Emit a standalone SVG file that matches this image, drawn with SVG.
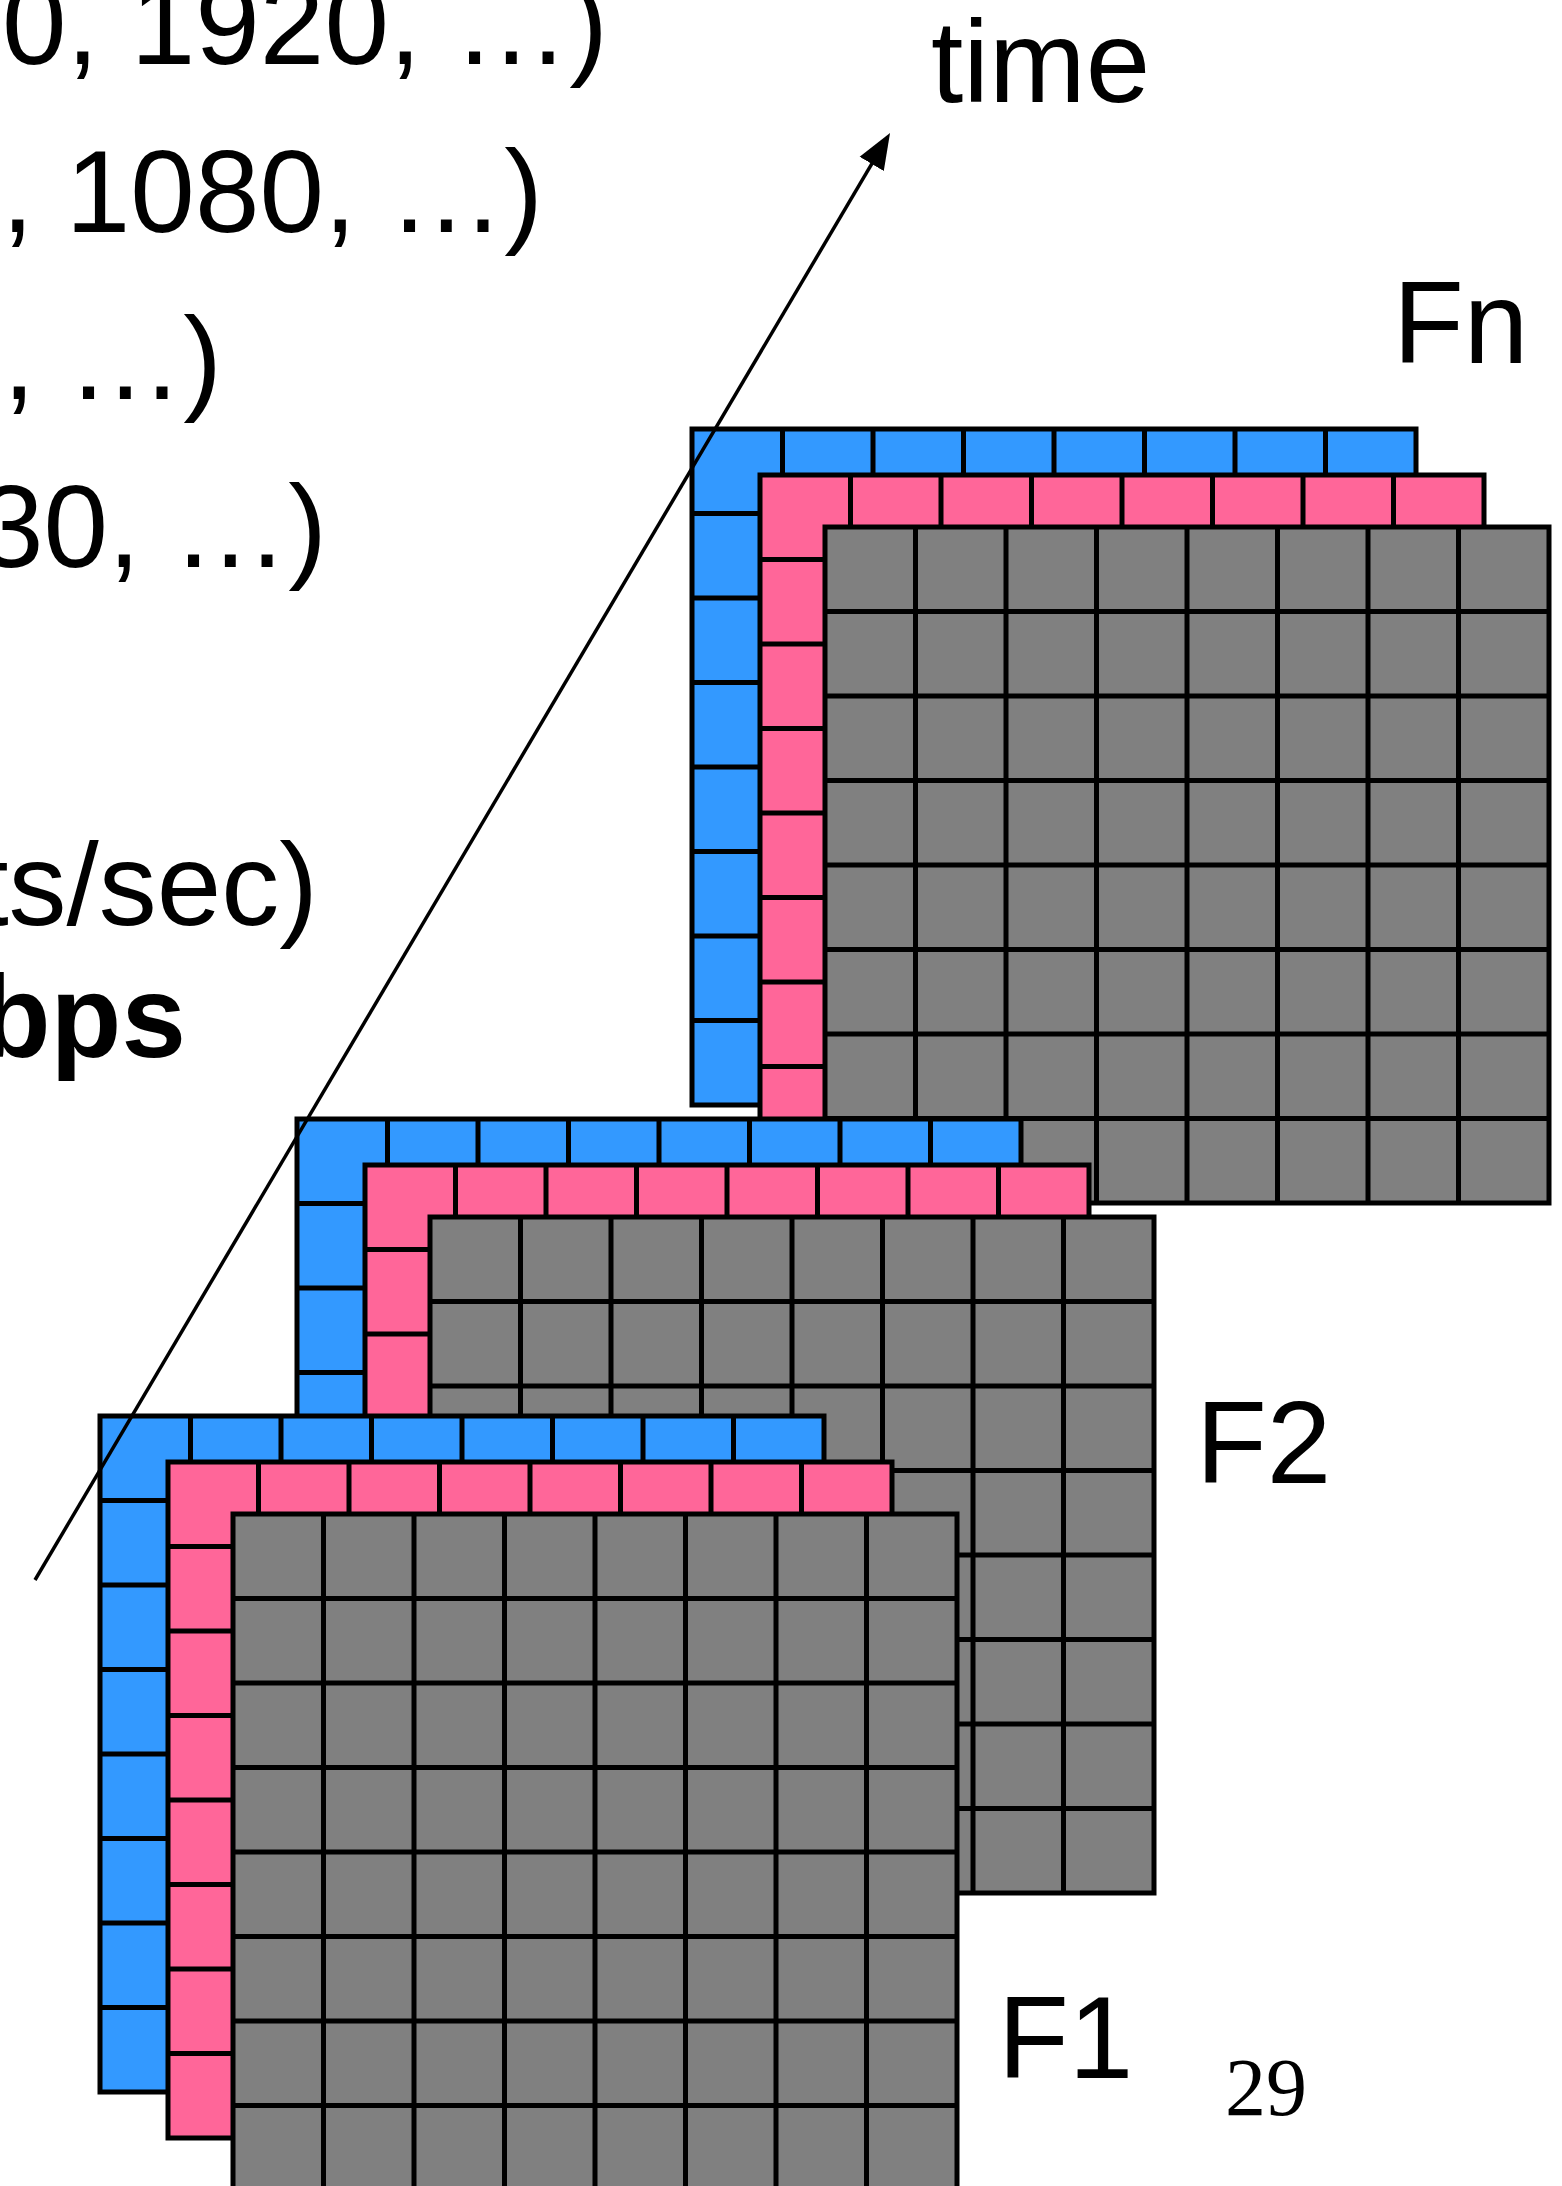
<svg xmlns="http://www.w3.org/2000/svg" xmlns:xlink="http://www.w3.org/1999/xlink" width="1562" height="2186" viewBox="0 0 1562 2186">
  <style>
    .txt { font-family: "Liberation Sans", Arial, Helvetica, sans-serif; font-size: 116px; fill: #000; }
    .bold { font-weight: bold; }
    .pg { font-family: "Liberation Serif", "Times New Roman", serif; font-size: 82px; fill: #000; }
    .grid { stroke: #000; stroke-width: 5; stroke-linejoin: miter; }
    .blue { fill: #3399ff; }
    .pink { fill: #ff6699; }
    .gray { fill: #808080; }
    .axis { stroke: #000; stroke-width: 3.5; fill: none; }
  </style>
  <defs>
    <!-- one 8x8 colour plane: outline plus cell lines -->
    <path id="plane" class="grid" d="M0 0H724V676H0Z M90.5 0V676M181 0V676M271.5 0V676M362 0V676M452.5 0V676M543 0V676M633.5 0V676 M0 84.5H724M0 169H724M0 253.5H724M0 338H724M0 422.5H724M0 507H724M0 591.5H724"/>
    <!-- a frame: blue, pink and gray planes stacked with an offset -->
    <g id="frame">
      <use xlink:href="#plane" href="#plane" class="blue"/>
      <use xlink:href="#plane" href="#plane" class="pink" transform="translate(68 46)"/>
      <use xlink:href="#plane" href="#plane" class="gray" transform="translate(133 98)"/>
    </g>
    <marker id="head" viewBox="-21 -15 36 30" refX="0" refY="0" markerWidth="36" markerHeight="30" markerUnits="userSpaceOnUse" orient="auto">
      <path d="M15 0L-21 -14L-21 14Z" fill="#000"/>
    </marker>
  </defs>

  <rect width="1562" height="2186" fill="#fff"/>

  <!-- bullet text, running off the left edge -->
  <g id="notes">
    <text class="txt" x="608" y="64" text-anchor="end">0, 1920, …)</text>
    <text class="txt" x="543" y="232" text-anchor="end">, 1080, …)</text>
    <text class="txt" x="222" y="399" text-anchor="end">, …)</text>
    <text class="txt" x="327" y="567" text-anchor="end">30, …)</text>
    <text class="txt" x="318" y="925" text-anchor="end">ts/sec)</text>
    <text class="txt bold" x="186" y="1057" text-anchor="end">bps</text>
  </g>

  <!-- frames, back to front -->
  <g id="frame-n">
    <use xlink:href="#frame" href="#frame" transform="translate(692 429)"/>
    <text class="txt" x="1393" y="363">Fn</text>
  </g>
  <g id="frame-2">
    <use xlink:href="#frame" href="#frame" transform="translate(297 1119)"/>
    <text class="txt" x="1196" y="1483">F2</text>
  </g>
  <g id="frame-1">
    <use xlink:href="#frame" href="#frame" transform="translate(100 1416)"/>
    <text class="txt" x="998" y="2078">F1</text>
  </g>

  <!-- time axis -->
  <g id="connectors">
    <line class="axis" x1="35" y1="1580" x2="882.4" y2="145.9" marker-end="url(#head)"/>
    <text class="txt" x="931" y="102">time</text>
  </g>

  <text class="pg" x="1225" y="2115">29</text>
</svg>
